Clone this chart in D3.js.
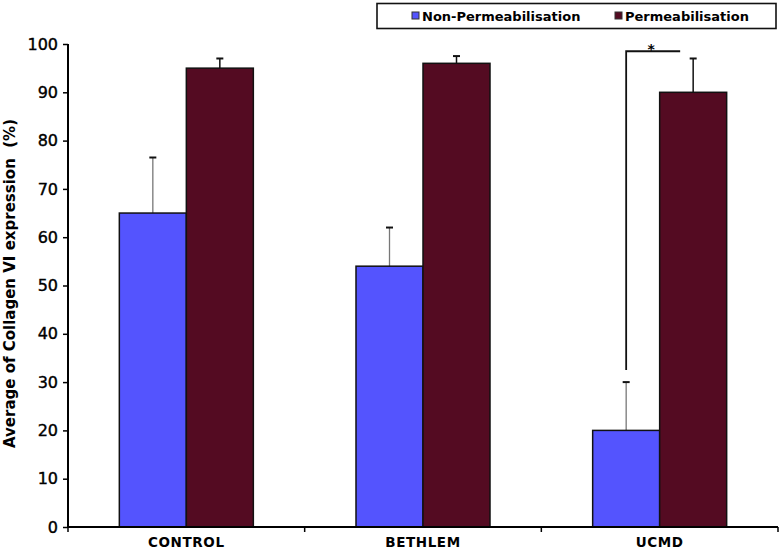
<!DOCTYPE html>
<html><head><meta charset="utf-8">
<script src="https://cdn.jsdelivr.net/npm/d3@7"></script>
<style>body{margin:0;background:#fff}svg{display:block}</style>
</head><body>
<script>
const categories = ["CONTROL", "BETHLEM", "UCMD"];
const seriesNames = ["Non-Permeabilisation", "Permeabilisation"];
const nonPerm = [65, 54, 20];
const nonPermErr = [11.5, 8, 10];
const perm = [95, 96, 90];
const permErr = [2, 1.5, 7];
const yTicks = [0, 10, 20, 30, 40, 50, 60, 70, 80, 90, 100];
const colors = ["#5454FE", "#540B22"];

const W = 782, H = 552;
const FONT = "DejaVu Sans, Verdana, sans-serif";
const svg = d3.select("body").append("svg").attr("width", W).attr("height", H)
  .style("font-family", FONT);

const x = d3.scaleBand().domain(categories).range([68, 778]).paddingInner(0).paddingOuter(0);
const y = d3.scaleLinear().domain([0, 100]).range([527, 44]);
const barW = 67;

// y axis
const ya = svg.append("g").attr("transform", "translate(68,0)")
  .call(d3.axisLeft(y).tickValues(yTicks).tickSize(5).tickPadding(5));
ya.select(".domain").attr("stroke", "#000").attr("stroke-width", 2).attr("d", `M0,${y(100)}V${y(0)}`);
ya.selectAll(".tick line").attr("stroke", "#000").attr("stroke-width", 1.5);
ya.selectAll("text").attr("font-size", 16).attr("fill", "#000").attr("font-family", FONT)
  .attr("stroke", "#000").attr("stroke-width", 0.4);

// bars
const data = categories.map((c, i) => ({c, v: [nonPerm[i], perm[i]], e: [nonPermErr[i], permErr[i]]}));
data.forEach(d => {
  const cx = x(d.c) + x.bandwidth() / 2;
  [0, 1].forEach(s => {
    const x0 = s === 0 ? cx - barW : cx;
    const top = y(d.v[s] + d.e[s]);
    svg.append("line").attr("x1", x0 + barW / 2).attr("x2", x0 + barW / 2)
      .attr("y1", y(d.v[s])).attr("y2", top)
      .attr("stroke", s === 0 ? "#777" : "#111").attr("stroke-width", s === 0 ? 1.3 : 1.5);
    svg.append("line").attr("x1", x0 + barW / 2 - 3.5).attr("x2", x0 + barW / 2 + 3.5)
      .attr("y1", top).attr("y2", top).attr("stroke", "#111").attr("stroke-width", 2);
    svg.append("rect").attr("x", x0).attr("y", y(d.v[s])).attr("width", barW)
      .attr("height", y(0) - y(d.v[s])).attr("fill", colors[s])
      .attr("stroke", "#111").attr("stroke-width", 1.5);
  });
});

// x axis
const xa = svg.append("g").attr("transform", `translate(0,${y(0)})`);
xa.append("line").attr("x1", 68).attr("x2", 778).attr("stroke", "#000").attr("stroke-width", 2);
const bounds = [68, x("BETHLEM"), x("UCMD"), 778];
bounds.forEach(b => xa.append("line").attr("x1", b).attr("x2", b).attr("y1", 0).attr("y2", 5).attr("stroke", "#000").attr("stroke-width", 1.5));
categories.forEach(c => xa.append("text").attr("x", x(c) + x.bandwidth() / 2).attr("y", 19.5)
  .attr("text-anchor", "middle").attr("font-size", 13.5).attr("font-weight", "bold")
  .attr("letter-spacing", 0.6).text(c));

// significance bracket for UCMD
const ux = x("UCMD") + x.bandwidth() / 2;
const bx1 = ux - barW / 2, bx2 = ux + barW / 2 - 6;
const by = y(98.5);
svg.append("path").attr("d", `M${bx1},${y(32.5)}V${by}H${bx2 - 7}`).attr("fill", "none")
  .attr("stroke", "#111").attr("stroke-width", 1.8);
svg.append("text").attr("x", (bx1 + bx2 - 7) / 2 - 2).attr("y", by + 3).attr("text-anchor", "middle")
  .attr("font-size", 14).attr("font-weight", "bold").text("*");

// y label
svg.append("text").attr("transform", `translate(15,${y(50) - 2}) rotate(-90)`).attr("text-anchor", "middle")
  .attr("font-size", 15).attr("font-weight", "bold").attr("xml:space", "preserve")
  .text("Average of Collagen VI expression  (%)");

// legend
const lg = svg.append("g");
lg.append("rect").attr("x", 377).attr("y", 3.5).attr("width", 399).attr("height", 25)
  .attr("fill", "#fff").attr("stroke", "#111").attr("stroke-width", 1.6);
const legX = [412, 615];
seriesNames.forEach((n, i) => {
  lg.append("rect").attr("x", legX[i]).attr("y", 12).attr("width", 7).attr("height", 7)
    .attr("fill", colors[i]).attr("stroke", "#333").attr("stroke-width", 1);
  lg.append("text").attr("x", legX[i] + 10).attr("y", 21).attr("font-size", 13)
    .attr("font-weight", "bold").text(n);
});
</script>
</body></html>
